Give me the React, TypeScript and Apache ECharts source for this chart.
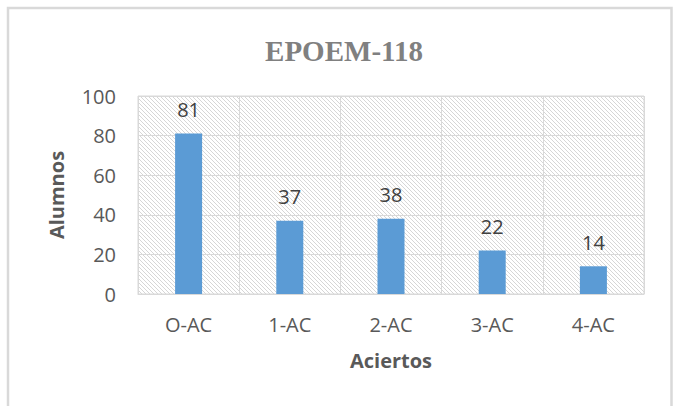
import React, { useEffect, useRef } from "react";
import * as echarts from "echarts";

const categories = ["O-AC", "1-AC", "2-AC", "3-AC", "4-AC"];
const alumnos = [81, 37, 38, 22, 14];
const yTicks = { min: 0, max: 100, interval: 20 };
const titleText = "EPOEM-118";
const yName = "Alumnos";
const xName = "Aciertos";

function makeHatch(): HTMLCanvasElement {
  const c = document.createElement("canvas");
  c.width = 4;
  c.height = 4;
  const ctx = c.getContext("2d")!;
  ctx.fillStyle = "#ffffff";
  ctx.fillRect(0, 0, 4, 4);
  ctx.strokeStyle = "#d6d6d6";
  ctx.lineWidth = 1;
  ctx.beginPath();
  ctx.moveTo(0, 0);
  ctx.lineTo(4, 4);
  ctx.moveTo(-1, 3);
  ctx.lineTo(1, 5);
  ctx.moveTo(3, -1);
  ctx.lineTo(5, 1);
  ctx.stroke();
  return c;
}

export default function App() {
  const ref = useRef<HTMLDivElement>(null);
  useEffect(() => {
    if (!ref.current) return;
    const chart = echarts.init(ref.current, undefined, { renderer: "svg" });
    const hatch = makeHatch();
    chart.setOption({
      animation: false,
      backgroundColor: "#ffffff",
      title: {
        text: titleText,
        left: 339,
        textAlign: "center",
        top: 31,
        textStyle: {
          fontFamily: "Liberation Serif",
          fontWeight: "bold",
          fontSize: 29,
          color: "#808080",
        },
      },
      graphic: [
        {
          type: "rect",
          shape: { x: 8, y: 8, width: 663.5, height: 420 },
          style: { fill: "none", stroke: "#d9d9d9", lineWidth: 2.5 },
          silent: true,
        },
      ],
      grid: {
        left: 138,
        right: 29,
        top: 96,
        bottom: 112,
        show: true,
        borderColor: "#d9d9d9",
        borderWidth: 1,
        backgroundColor: { image: hatch, repeat: "repeat" } as any,
      },
      xAxis: {
        type: "category",
        data: categories,
        name: xName,
        nameLocation: "middle",
        nameGap: 56,
        nameTextStyle: {
          fontFamily: "Open Sans",
          fontWeight: "bold",
          fontSize: 20,
          color: "#595959",
        },
        axisLine: { show: true, lineStyle: { color: "#d9d9d9" } },
        axisTick: { show: false },
        axisLabel: {
          fontFamily: "Open Sans",
          fontSize: 20,
          color: "#595959",
          margin: 20,
        },
        splitLine: { show: true, lineStyle: { color: "#d9d9d9" } },
      },
      yAxis: {
        type: "value",
        min: yTicks.min,
        max: yTicks.max,
        interval: yTicks.interval,
        name: yName,
        nameLocation: "middle",
        nameGap: 72,
        nameTextStyle: {
          fontFamily: "Open Sans",
          fontWeight: "bold",
          fontSize: 20,
          color: "#595959",
        },
        axisLine: { show: false },
        axisTick: { show: false },
        axisLabel: {
          fontFamily: "Open Sans",
          fontSize: 20,
          color: "#595959",
          margin: 22,
        },
        splitLine: { show: true, lineStyle: { color: "#d9d9d9" } },
      },
      series: [
        {
          type: "bar",
          data: alumnos,
          barWidth: 27,
          itemStyle: { color: "#5b9bd5" },
          label: {
            show: true,
            position: "top",
            distance: 14,
            fontFamily: "Open Sans",
            fontSize: 20,
            color: "#404040",
          },
        },
      ],
    });
    return () => chart.dispose();
  }, []);
  return (
    <div
      ref={ref}
      style={{ position: "fixed", left: 0, top: 0, width: 673, height: 406 }}
    />
  );
}
